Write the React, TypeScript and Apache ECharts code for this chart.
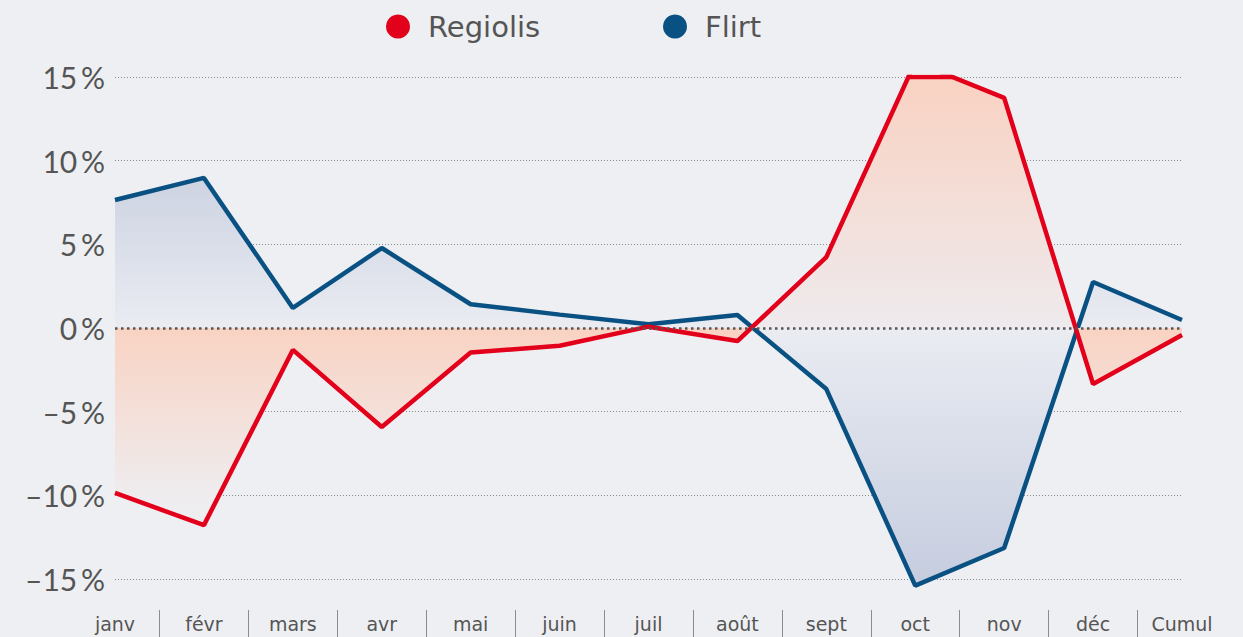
import React, { useEffect, useRef } from "react";
import * as echarts from "echarts";

const categories = ["janv", "févr", "mars", "avr", "mai", "juin", "juil", "août", "sept", "oct", "nov", "déc", "Cumul"];
const regiolis = [-9.86, -11.78, -1.31, -5.92, -1.47, -1.06, 0.08, -0.78, 4.24, 15.9, 13.75, -3.35, -0.42];
const flirt = [7.65, 8.97, 1.2, 4.78, 1.42, 0.8, 0.22, 0.78, -3.65, -15.4, -13.15, 2.75, 0.48];
const seriesNames = ["Regiolis", "Flirt"];
const yMin = -15;
const yMax = 15;
const yStep = 5;

const RED = "#e2001a";
const BLUE = "#0a5183";
const BG = "#eeeff3";
const TEXT = "#555555";

function fmtPct(v: number): string {
  const s = v < 0 ? "\u2013" + Math.abs(v) : String(v);
  return s + "\u2009%";
}

// Portions of a series lying above the axis maximum: the line is drawn flat along the top edge there.
function topEdgeRuns(values: number[], limit: number): (number[] | string)[] {
  const out: (number[] | string)[] = [];
  for (let i = 0; i < values.length - 1; i++) {
    const a = values[i];
    const b = values[i + 1];
    if (a < limit && b < limit) continue;
    const x0 = a >= limit ? i : i + (limit - a) / (b - a);
    const x1 = b >= limit ? i + 1 : i + (limit - a) / (b - a);
    out.push([x0, limit], [x1, limit], "-");
  }
  return out;
}

export default function App() {
  const ref = useRef<HTMLDivElement>(null);
  useEffect(() => {
    document.body.style.margin = "0";
    if (!ref.current) return;
    const chart = echarts.init(ref.current, null, { renderer: "svg" });
    const legendText = { fontSize: 29, color: TEXT, fontFamily: "DejaVu Sans", padding: [0, 0, 0, 13], lineHeight: 24 };
    const option: any = {
      animation: false,
      backgroundColor: BG,
      grid: { left: 115, right: 61, top: 77, bottom: 58, containLabel: false },
      legend: [
        {
          data: [seriesNames[0]],
          icon: "circle",
          itemWidth: 24,
          itemHeight: 24,
          left: 381,
          top: 7,
          textStyle: legendText,
          selectedMode: false,
        },
        {
          data: [seriesNames[1]],
          icon: "circle",
          itemWidth: 24,
          itemHeight: 24,
          left: 658,
          top: 7,
          textStyle: legendText,
          selectedMode: false,
        },
      ],
      xAxis: [
        {
          type: "category",
          data: categories,
          boundaryGap: false,
          axisLine: { show: false },
          axisTick: { show: false },
          splitLine: { show: false },
          axisLabel: { color: TEXT, fontSize: 19, fontFamily: "DejaVu Sans", margin: 35, interval: 0 },
        },
        {
          type: "value",
          min: 0,
          max: categories.length - 1,
          interval: 1,
          position: "bottom",
          offset: 31,
          axisLine: { show: false },
          axisTick: { show: false },
          axisLabel: { show: false },
          splitLine: { show: false },
          minorTick: { show: true, splitNumber: 2, length: 28, lineStyle: { color: "#8c8c8c", width: 1 } },
        },
      ],
      yAxis: {
        type: "value",
        min: yMin,
        max: yMax,
        interval: yStep,
        axisLine: { show: false },
        axisTick: { show: false },
        axisLabel: { color: TEXT, fontSize: 30, fontFamily: "Lato", margin: 10, formatter: fmtPct },
        splitLine: { show: true, lineStyle: { color: "#8a8a8a", width: 1, type: [1, 2] } },
      },
      series: [
        {
          id: "flirt",
          name: seriesNames[1],
          type: "line",
          data: flirt,
          clip: false,
          symbol: "none",
          color: BLUE,
          lineStyle: { color: BLUE, width: 4.5 },
          areaStyle: { color: "rgba(200,206,222,1)", origin: 0, opacity: 1 },
          z: 2,
        },
        {
          id: "regiolis",
          name: seriesNames[0],
          type: "line",
          data: regiolis,
          clip: true,
          symbol: "none",
          color: RED,
          lineStyle: { color: RED, width: 4.5 },
          areaStyle: { color: "rgba(249,211,195,1)", origin: 0, opacity: 1 },
          z: 3,
          markLine: {
            silent: true,
            symbol: "none",
            label: { show: false },
            lineStyle: { color: "#555", width: 2.5, type: [2.5, 3.5] },
            data: [{ yAxis: 0 }],
            z: 5,
          },
        },
        {
          id: "regiolis-top",
          name: "regiolis-top",
          type: "line",
          xAxisIndex: 1,
          data: topEdgeRuns(regiolis, yMax),
          clip: true,
          silent: true,
          symbol: "none",
          color: RED,
          lineStyle: { color: RED, width: 4.5 },
          z: 3,
        },
      ],
    };
    chart.setOption(option);
    const yTop = chart.convertToPixel({ yAxisIndex: 0 }, yMax) as number;
    const yBot = chart.convertToPixel({ yAxisIndex: 0 }, yMin) as number;
    const redGrad = new echarts.graphic.LinearGradient(0, yTop, 0, yBot, [
      { offset: 0, color: "#f9d2c2" },
      { offset: 0.499, color: "#eeeaed" },
      { offset: 0.5, color: "#f9d3c3" },
      { offset: 0.85, color: "#eeedf0" },
      { offset: 1, color: "#eeeef1" },
    ], true);
    const blueGrad = new echarts.graphic.LinearGradient(0, yTop, 0, yBot, [
      { offset: 0, color: "#c8cede" },
      { offset: 0.2, color: "#cdd3e2" },
      { offset: 0.5, color: "#eaecf2" },
      { offset: 1, color: "#c6cddf" },
    ], true);
    chart.setOption({
      series: [
        { id: "flirt", areaStyle: { color: blueGrad, origin: 0, opacity: 1 } },
        { id: "regiolis", areaStyle: { color: redGrad, origin: 0, opacity: 1 } },
      ],
    });
    return () => chart.dispose();
  }, []);
  return <div ref={ref} style={{ width: 1243, height: 637 }} />;
}
